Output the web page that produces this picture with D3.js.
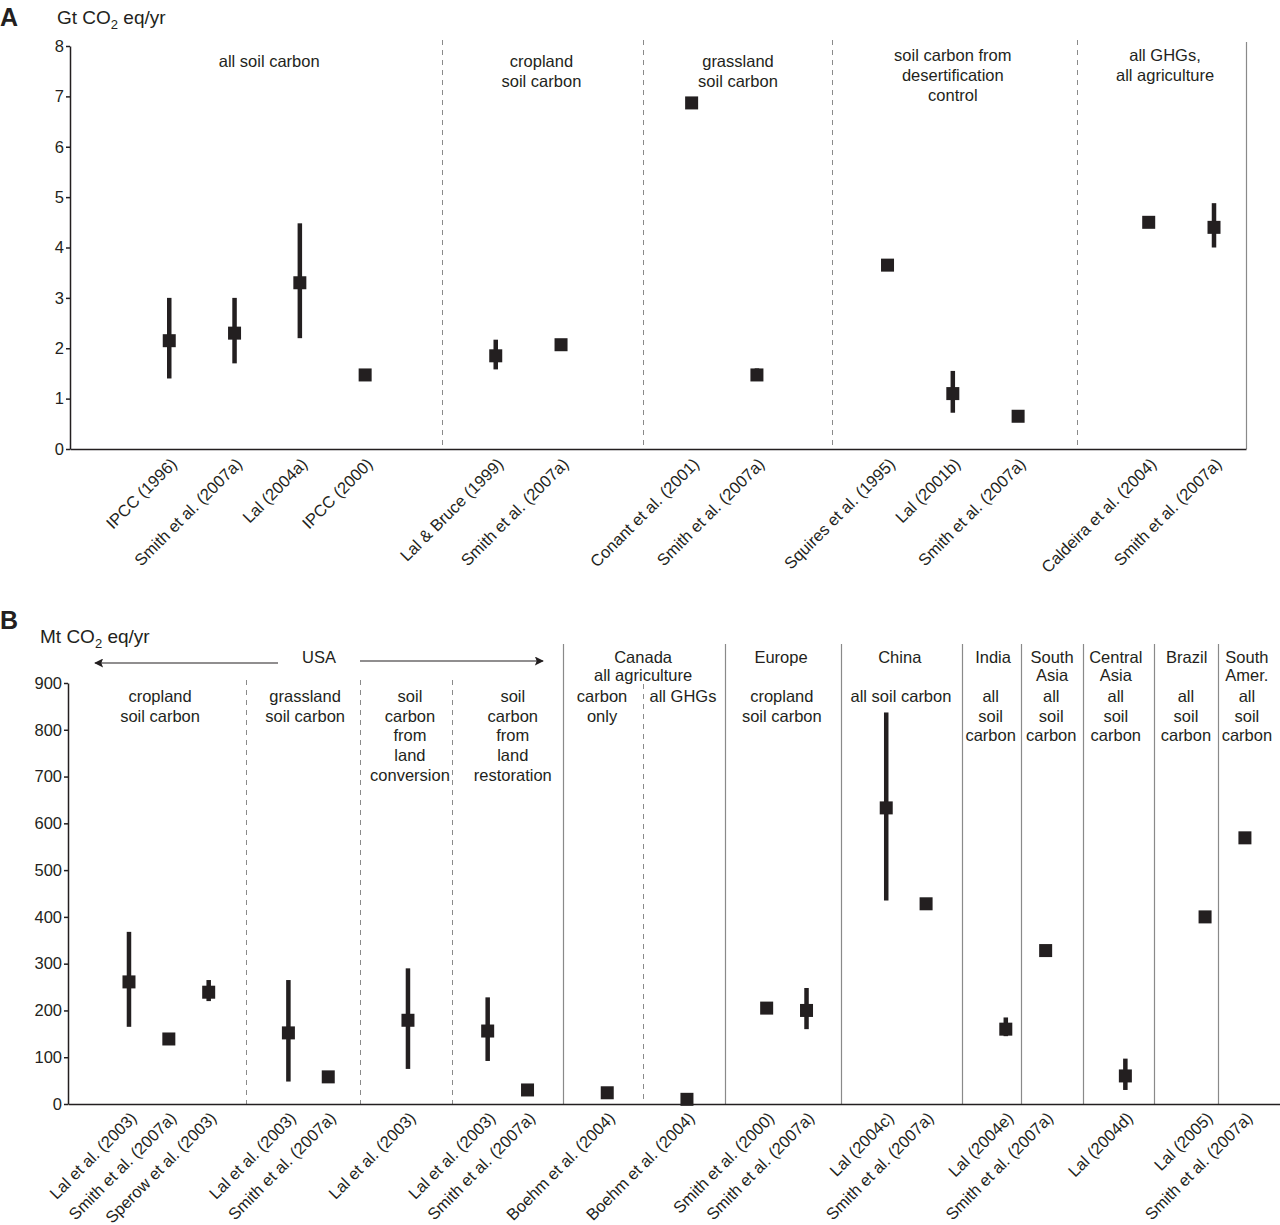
<!DOCTYPE html>
<html>
<head>
<meta charset="utf-8">
<script src="https://cdn.jsdelivr.net/npm/d3@7"></script>
<style>
  body { margin: 0; background: #fff; }
  svg text { font-family: "Liberation Sans", Arial, Helvetica, sans-serif; fill: #231f20; }
</style>
</head>
<body>
<div id="chart"></div>
<script>
// ---- panel A data (Gt CO2 eq/yr) ----
var aLabels = ['IPCC (1996)', 'Smith et al. (2007a)', 'Lal (2004a)', 'IPCC (2000)',
    'Lal & Bruce (1999)', 'Smith et al. (2007a)',
    'Conant et al. (2001)', 'Smith et al. (2007a)',
    'Squires et al. (1995)', 'Lal (2001b)', 'Smith et al. (2007a)',
    'Caldeira et al. (2004)', 'Smith et al. (2007a)'];
var aSlots = [0, 1, 2, 3, 5, 6, 8, 9, 11, 12, 13, 15, 16];
var aValues = [2.15, 2.3, 3.3, 1.47, 1.85, 2.07, 6.87, 1.47, 3.65, 1.1, 0.65, 4.5, 4.4];
var aLow = [1.4, 1.7, 2.2, null, 1.58, 2.07, null, 1.47, null, 0.72, null, null, 4.0];
var aHigh = [3.0, 3.0, 4.48, null, 2.17, 2.17, null, 1.6, null, 1.55, null, null, 4.88];
var aTicks = [0, 1, 2, 3, 4, 5, 6, 7, 8];
var aDividers = [4.17, 7.26, 10.15, 13.9];
var aGroupText = [['all soil carbon'], ['cropland', 'soil carbon'], ['grassland', 'soil carbon'],
    ['soil carbon from', 'desertification', 'control'], ['all GHGs,', 'all agriculture']];
var aGroupAt = [1.53, 5.7, 8.71, 12.0, 15.25];

// ---- panel B data (Mt CO2 eq/yr) ----
var bLabels = ['Lal et al. (2003)', 'Smith et al. (2007a)', 'Sperow et al. (2003)',
    'Lal et al. (2003)', 'Smith et al. (2007a)',
    'Lal et al. (2003)',
    'Lal et al. (2003)', 'Smith et al. (2007a)',
    'Boehm et al. (2004)', 'Boehm et al. (2004)',
    'Smith et al. (2000)', 'Smith et al. (2007a)',
    'Lal (2004c)', 'Smith et al. (2007a)',
    'Lal (2004e)', 'Smith et al. (2007a)',
    'Lal (2004d)',
    'Lal (2005)', 'Smith et al. (2007a)'];
var bSlots = [0, 1, 2, 4, 5, 7, 9, 10, 12, 14, 16, 17, 19, 20, 22, 23, 25, 27, 28];
var bValues = [261, 139, 239, 152, 58, 179, 156, 30, 24, 10, 205, 200, 633, 428, 160, 328, 60, 400, 569];
var bLow = [165, null, 220, 48, null, 75, 92, null, 24, 10, null, 160, 435, null, 145, null, 30, null, null];
var bHigh = [368, null, 265, 265, null, 290, 228, null, 33, 17, null, 248, 837, null, 185, null, 97, null, null];
var bTicks = [0, 100, 200, 300, 400, 500, 600, 700, 800, 900];
var bDashed = [2.94, 5.8, 8.1];
var bCanadaSplit = [12.9];
var bSolid = [10.89, 14.95, 17.86, 20.9, 22.38, 23.93, 25.72, 27.32];
var bRegionText = [['Canada'], ['Europe'], ['China'], ['India'], ['South', 'Asia'],
    ['Central', 'Asia'], ['Brazil'], ['South', 'Amer.'], ['all agriculture']];
var bRegionAt = [12.9, 16.36, 19.34, 21.68, 23.16, 24.76, 26.54, 28.05, 12.9];
var bRegionRow = [0, 0, 0, 0, 0, 0, 0, 0, 1];
var bTypeText = [['cropland', 'soil carbon'], ['grassland', 'soil carbon'],
    ['soil', 'carbon', 'from', 'land', 'conversion'], ['soil', 'carbon', 'from', 'land', 'restoration'],
    ['carbon', 'only'], ['all GHGs'], ['cropland', 'soil carbon'], ['all soil carbon'],
    ['all', 'soil', 'carbon'], ['all', 'soil', 'carbon'], ['all', 'soil', 'carbon'],
    ['all', 'soil', 'carbon'], ['all', 'soil', 'carbon']];
var bTypeAt = [0.78, 4.42, 7.05, 9.63, 11.87, 13.9, 16.38, 19.37, 21.62, 23.14, 24.76, 26.52, 28.05];

var ink = '#231f20';
var grey = '#8a8a8a';
var fs = '16.5px';

var svg = d3.select('#chart').append('svg')
    .attr('width', 1280)
    .attr('height', 1225);

// draws one panel of dots with whiskers
function drawPanel(o) {
    var g = svg.append('g');

    var x = d3.scaleLinear().domain(o.xDomain).range(o.xRange);
    var y = d3.scaleLinear().domain(o.yDomain).range(o.yRange);
    var bottom = o.yRange[0];

    // dividers
    g.selectAll('line.dash')
        .data(o.dashed)
        .enter().append('line')
        .attr('x1', function (d) { return Math.round(x(d)) + 0.5; })
        .attr('x2', function (d) { return Math.round(x(d)) + 0.5; })
        .attr('y1', o.dashTop)
        .attr('y2', bottom)
        .style('stroke', grey)
        .style('stroke-width', 1)
        .style('stroke-dasharray', '5,5');

    g.selectAll('line.solid')
        .data(o.solid)
        .enter().append('line')
        .attr('x1', function (d) { return Math.round(x(d)) + 0.5; })
        .attr('x2', function (d) { return Math.round(x(d)) + 0.5; })
        .attr('y1', o.solidTop)
        .attr('y2', bottom)
        .style('stroke', grey)
        .style('stroke-width', 1.2);

    // axes
    var yAxis = d3.axisLeft(y).tickValues(o.ticks).tickSize(4).tickSizeOuter(0).tickPadding(2);
    var yg = g.append('g')
        .attr('transform', 'translate(' + o.xRange[0] + ',0)')
        .call(yAxis);
    yg.selectAll('path, line').style('stroke', ink).style('stroke-width', 1.5);
    yg.selectAll('text').style('font-size', fs).style('fill', ink);

    var labelAt = {};
    o.slots.forEach(function (s, i) { labelAt[s] = o.labels[i]; });
    var xAxis = d3.axisBottom(x).tickValues(o.slots).tickSize(0).tickSizeOuter(0)
        .tickFormat(function (d) { return labelAt[d]; });
    var xg = g.append('g')
        .attr('transform', 'translate(0,' + bottom + ')')
        .call(xAxis);
    xg.select('path').style('stroke', ink).style('stroke-width', 1.5);
    xg.selectAll('text')
        .attr('x', 0).attr('y', 0).attr('dy', '0.35em')
        .attr('text-anchor', 'end')
        .attr('transform', 'translate(' + o.labelShift[0] + ',' + o.labelShift[1] + ') rotate(-45)')
        .style('font-size', fs)
        .style('fill', ink);

    // error bars
    var idx = d3.range(o.values.length).filter(function (i) { return o.low[i] != null; });
    g.selectAll('rect.err')
        .data(idx)
        .enter().append('rect')
        .attr('x', function (i) { return x(o.slots[i]) - 2.25; })
        .attr('width', 4.5)
        .attr('y', function (i) { return y(o.high[i]); })
        .attr('height', function (i) { return y(o.low[i]) - y(o.high[i]); })
        .style('fill', ink);

    // squares
    g.selectAll('rect.dot')
        .data(o.values)
        .enter().append('rect')
        .attr('x', function (d, i) { return x(o.slots[i]) - 6.5; })
        .attr('y', function (d) { return y(d) - 6.5; })
        .attr('width', 13)
        .attr('height', 13)
        .style('fill', ink);

    return { g: g, x: x, y: y };
}

function multiLine(g, lines, cx, y0, step) {
    var t = g.append('text')
        .attr('text-anchor', 'middle')
        .style('font-size', fs);
    lines.forEach(function (s, k) {
        t.append('tspan').attr('x', cx).attr('y', y0 + k * step).attr('dy', '0.35em').text(s);
    });
}

function unitTitle(x, y, pre) {
    var t = svg.append('text').attr('x', x).attr('y', y).style('font-size', '19px');
    t.append('tspan').text(pre + ' CO');
    t.append('tspan').attr('dy', 5).style('font-size', '13px').text('2');
    t.append('tspan').attr('dy', -5).text(' eq/yr');
}

// ---------- panel A ----------
var A = drawPanel({
    xDomain: [-1.52, 16.49], xRange: [70, 1246],
    yDomain: [0, 8], yRange: [449, 46],
    ticks: aTicks, slots: aSlots, labels: aLabels,
    values: aValues, low: aLow, high: aHigh,
    dashed: aDividers, dashTop: 40, solid: [16.49], solidTop: 42,
    labelShift: [4, 12]
});
svg.append('text').attr('x', 0).attr('y', 26)
    .style('font-size', '25px').style('font-weight', 'bold').text('A');
unitTitle(57, 24, 'Gt');

var aRowTop = [61, 61, 61, 55, 55];
aGroupText.forEach(function (lines, i) {
    multiLine(A.g, lines, A.x(aGroupAt[i]), aRowTop[i], 20);
});

// ---------- panel B ----------
var B = drawPanel({
    xDomain: [-1.53, 28.88], xRange: [68, 1280],
    yDomain: [0, 900], yRange: [1104, 683],
    ticks: bTicks, slots: bSlots, labels: bLabels,
    values: bValues, low: bLow, high: bHigh,
    dashed: bDashed, dashTop: 680, solid: bSolid, solidTop: 644,
    labelShift: [4, 11]
});
B.g.selectAll('line.canada')
    .data(bCanadaSplit)
    .enter().append('line')
    .attr('x1', function (d) { return Math.round(B.x(d)) + 0.5; })
    .attr('x2', function (d) { return Math.round(B.x(d)) + 0.5; })
    .attr('y1', 684)
    .attr('y2', 1104)
    .style('stroke', grey)
    .style('stroke-dasharray', '5,5');

svg.append('text').attr('x', 0).attr('y', 629)
    .style('font-size', '25px').style('font-weight', 'bold').text('B');
unitTitle(40, 643, 'Mt');

var rowY = [657, 675, 696];
bRegionText.forEach(function (lines, i) {
    multiLine(B.g, lines, B.x(bRegionAt[i]), rowY[bRegionRow[i]], 18);
});
bTypeText.forEach(function (lines, i) {
    multiLine(B.g, lines, B.x(bTypeAt[i]), 696, 19.8);
});

// USA with arrows
var defs = svg.append('defs');
defs.append('marker')
    .attr('id', 'head')
    .attr('viewBox', '0 0 10 10')
    .attr('refX', 9).attr('refY', 5)
    .attr('markerWidth', 14).attr('markerHeight', 9)
    .attr('markerUnits', 'userSpaceOnUse')
    .attr('orient', 'auto')
    .append('path').attr('d', 'M0,0 L10,5 L0,10 L2,5 Z').style('fill', ink);

multiLine(B.g, ['USA'], 319, 657, 18);
B.g.append('line')
    .attr('x1', 278).attr('x2', 95).attr('y1', 663).attr('y2', 663)
    .style('stroke', ink).style('stroke-width', 1.2)
    .attr('marker-end', 'url(#head)');
B.g.append('line')
    .attr('x1', 360).attr('x2', 543).attr('y1', 661).attr('y2', 661)
    .style('stroke', ink).style('stroke-width', 1.2)
    .attr('marker-end', 'url(#head)');
</script>
</body>
</html>
